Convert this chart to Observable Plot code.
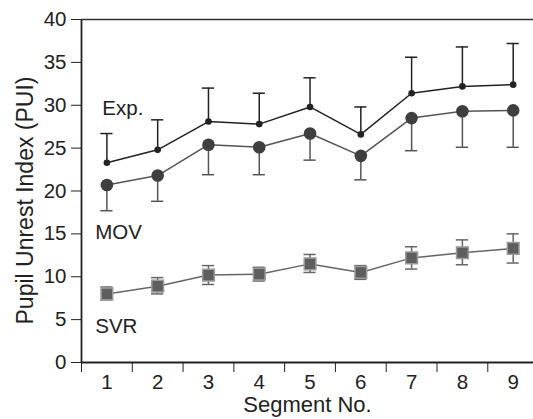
<!DOCTYPE html>
<html>
<head>
<meta charset="utf-8">
<script src="https://cdn.jsdelivr.net/npm/d3@7"></script>
<script src="https://cdn.jsdelivr.net/npm/@observablehq/plot@0.6"></script>
<style>
  html, body { margin: 0; padding: 0; background: #fff; }
  #chart svg { display: block; }
</style>
</head>
<body>
<div id="chart"></div>
<script>
const segments = [1, 2, 3, 4, 5, 6, 7, 8, 9];
const expMean  = [23.3, 24.8, 28.1, 27.8, 29.8, 26.6, 31.4, 32.2, 32.4];
const expUpper = [26.7, 28.3, 32.0, 31.4, 33.2, 29.8, 35.6, 36.8, 37.2];
const movMean  = [20.7, 21.8, 25.4, 25.1, 26.7, 24.1, 28.5, 29.3, 29.4];
const movLower = [17.7, 18.8, 21.9, 21.9, 23.6, 21.3, 24.7, 25.1, 25.1];
const svrMean  = [8.0, 8.9, 10.2, 10.3, 11.5, 10.5, 12.2, 12.8, 13.3];
const svrUpper = [8.8, 9.9, 11.3, 11.1, 12.6, 11.3, 13.5, 14.3, 15.0];
const svrLower = [7.3, 8.0, 9.1, 9.5, 10.5, 9.7, 10.9, 11.4, 11.6];
const yTicks = [0, 5, 10, 15, 20, 25, 30, 35, 40];
const seriesLabels = [
  {text: "Exp.", x: 0.91, y: 29.6},
  {text: "MOV",  x: 0.77, y: 15.15},
  {text: "SVR",  x: 0.77, y: 4.15}
];

const exp = segments.map((s, i) => ({seg: s, mean: expMean[i], hi: expUpper[i]}));
const mov = segments.map((s, i) => ({seg: s, mean: movMean[i], lo: movLower[i]}));
const svr = segments.map((s, i) => ({seg: s, mean: svrMean[i], hi: svrUpper[i], lo: svrLower[i]}));
const boundaries = [0.5, ...segments.slice(0, -1).map(s => s + 0.5)];
const cap = 0.12;

const font = "Liberation Sans, Arial, Helvetica, sans-serif";

const chart = Plot.plot({
  width: 533,
  height: 419,
  marginLeft: 81,
  marginRight: 0,
  marginTop: 19,
  marginBottom: 57,
  style: {fontFamily: font, fontSize: "20.5px", color: "#222", background: "#fff"},
  x: {domain: [0.5, 9.4]},
  y: {domain: [0, 40]},
  marks: [
    Plot.axisY({ticks: yTicks, tickSize: 10, tickPadding: 5, label: null, fontSize: 20.5, stroke: "#222", strokeWidth: 1}),
    Plot.axisX({ticks: boundaries, tickSize: 10, tickFormat: () => "", label: null, stroke: "#222"}),
    Plot.axisX({ticks: segments, tickSize: 0, tickPadding: 12, label: null, fontSize: 20.5}),
    Plot.ruleX([0.5], {stroke: "#222", strokeWidth: 1.8}),
    Plot.ruleY([0], {stroke: "#222", strokeWidth: 1.8}),
    Plot.ruleY([40], {stroke: "#333", strokeWidth: 1.5}),
    Plot.text(["Pupil Unrest Index (PUI)"], {frameAnchor: "left", rotate: -90, textAnchor: "middle", lineAnchor: "middle", dx: -55.5, dy: 9.5, fontSize: 23, fill: "#222"}),
    Plot.text(["Segment No."], {frameAnchor: "bottom", textAnchor: "middle", lineAnchor: "middle", dy: 42, fontSize: 22, fill: "#222"}),
    // Exp.
    Plot.ruleX(exp, {x: "seg", y1: "mean", y2: "hi", stroke: "#222", strokeWidth: 1.5}),
    Plot.ruleY(exp, {x1: d => d.seg - cap, x2: d => d.seg + cap, y: "hi", stroke: "#222", strokeWidth: 1.5}),
    Plot.line(exp, {x: "seg", y: "mean", stroke: "#222", strokeWidth: 1.5}),
    Plot.dot(exp, {x: "seg", y: "mean", r: 3.3, fill: "#222"}),
    // MOV
    Plot.ruleX(mov, {x: "seg", y1: "mean", y2: "lo", stroke: "#555", strokeWidth: 1.5}),
    Plot.ruleY(mov, {x1: d => d.seg - cap, x2: d => d.seg + cap, y: "lo", stroke: "#555", strokeWidth: 1.5}),
    Plot.line(mov, {x: "seg", y: "mean", stroke: "#555", strokeWidth: 1.5}),
    Plot.dot(mov, {x: "seg", y: "mean", r: 6.3, fill: "#3f3f3f"}),
    // SVR
    Plot.ruleX(svr, {x: "seg", y1: "lo", y2: "hi", stroke: "#666", strokeWidth: 1.5}),
    Plot.ruleY(svr, {x1: d => d.seg - cap, x2: d => d.seg + cap, y: "hi", stroke: "#666", strokeWidth: 1.5}),
    Plot.ruleY(svr, {x1: d => d.seg - cap, x2: d => d.seg + cap, y: "lo", stroke: "#666", strokeWidth: 1.5}),
    Plot.line(svr, {x: "seg", y: "mean", stroke: "#666", strokeWidth: 1.5}),
    Plot.dot(svr, {x: "seg", y: "mean", symbol: "square", r: 6.6, fill: "#5e5e5e", stroke: "#9a9a9a", strokeWidth: 1.5}),
    // series labels
    Plot.text(seriesLabels, {x: "x", y: "y", text: "text", textAnchor: "start", fontSize: 20.5, fill: "#222"})
  ]
});
document.getElementById("chart").appendChild(chart);
</script>
</body>
</html>
